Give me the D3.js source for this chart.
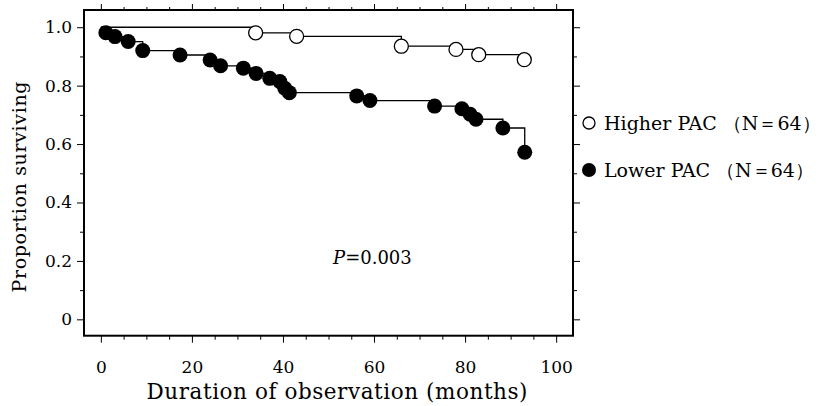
<!DOCTYPE html>
<html><head><meta charset="utf-8">
<script src="https://cdn.jsdelivr.net/npm/d3@7"></script>
<style>body{margin:0;background:#fff}</style>
</head><body>
<svg id="c" width="825" height="406"></svg>
<script>
// ---- data ----
const higherTimes = [34, 43, 66, 78, 83, 93];
const higherSurv  = [0.981, 0.969, 0.935, 0.924, 0.906, 0.889];
const lowerTimes = [1.1, 3.1, 6.0, 9.2, 17.4, 24.0, 26.3, 31.3, 34.1, 37.1, 39.3, 40.4, 41.4, 56.2, 59.1, 73.3, 79.3, 81.1, 82.4, 88.3, 93.1];
const lowerSurv  = [0.981, 0.968, 0.951, 0.920, 0.905, 0.888, 0.868, 0.860, 0.842, 0.825, 0.814, 0.791, 0.776, 0.765, 0.749, 0.730, 0.721, 0.702, 0.685, 0.655, 0.572];
const xMajorTicks = [0, 20, 40, 60, 80, 100];
const yMajorTicks = [0, 0.2, 0.4, 0.6, 0.8, 1.0];
const yTickLabels = ["0", "0.2", "0.4", "0.6", "0.8", "1.0"];
const legendLabels = ["Higher PAC （N＝64）", "Lower PAC （N＝64）"];
const xTitle = "Duration of observation (months)";
const yTitle = "Proportion surviving";
const pText = ["P", "=0.003"];

const svg = d3.select("#c");
const L = 84, R = 573, T = 10, B = 335.7;
const x = d3.scaleLinear().domain([-3.7, 103.7]).range([L, R]);
const y = d3.scaleLinear().domain([-0.056, 1.059]).range([B, T]);
const font = "'DejaVu Serif', serif";

const xMinor = d3.range(0, 101, 5).filter(v => v % 20 !== 0);
const yMinor = d3.range(1, 10, 2).map(v => v / 10);

function styleAxis(g){ g.select(".domain").remove(); g.selectAll("line").attr("stroke","#000").attr("stroke-width",1); }

// bottom
svg.append("g").attr("transform",`translate(0,${B})`)
  .call(d3.axisBottom(x).tickValues(xMajorTicks).tickSize(7).tickFormat(d=>d))
  .call(styleAxis)
  .call(g=>g.selectAll("text").attr("font-family",font).attr("font-size",17).attr("fill","#000").attr("y",25).attr("dy","0.71em"));
svg.append("g").attr("transform",`translate(0,${B})`)
  .call(d3.axisBottom(x).tickValues(xMinor).tickSize(4).tickFormat(""))
  .call(styleAxis);
// top
svg.append("g").attr("transform",`translate(0,${T})`)
  .call(d3.axisTop(x).tickValues(xMajorTicks).tickSize(6).tickFormat(""))
  .call(styleAxis);
svg.append("g").attr("transform",`translate(0,${T})`)
  .call(d3.axisTop(x).tickValues(xMinor).tickSize(3).tickFormat(""))
  .call(styleAxis);
// left
svg.append("g").attr("transform",`translate(${L},0)`)
  .call(d3.axisLeft(y).tickValues(yMajorTicks).tickSize(7).tickPadding(5).tickFormat((d,i)=>yTickLabels[i]))
  .call(styleAxis)
  .call(g=>g.selectAll("text").attr("font-family",font).attr("font-size",17).attr("fill","#000"));
svg.append("g").attr("transform",`translate(${L},0)`)
  .call(d3.axisLeft(y).tickValues(yMinor).tickSize(4).tickFormat(""))
  .call(styleAxis);
// right
svg.append("g").attr("transform",`translate(${R},0)`)
  .call(d3.axisRight(y).tickValues(yMajorTicks).tickSize(7).tickFormat(""))
  .call(styleAxis);
svg.append("g").attr("transform",`translate(${R},0)`)
  .call(d3.axisRight(y).tickValues(yMinor).tickSize(4).tickFormat(""))
  .call(styleAxis);

// frame
svg.append("rect").attr("x",L).attr("y",T).attr("width",R-L).attr("height",B-T)
  .attr("fill","none").attr("stroke","#000").attr("stroke-width",2);

// step curves
const line = d3.line().x(d=>x(d[0])).y(d=>y(d[1])).curve(d3.curveStepAfter);
const hi = [[0,1]].concat(higherTimes.map((t,i)=>[t,higherSurv[i]]));
const lo = [[0,1]].concat(lowerTimes.map((t,i)=>[t,lowerSurv[i]]));
svg.append("path").attr("d",line(hi)).attr("fill","none").attr("stroke","#000").attr("stroke-width",1.3);
svg.append("path").attr("d",line(lo)).attr("fill","none").attr("stroke","#000").attr("stroke-width",1.3);

svg.append("g").selectAll("circle").data(lowerTimes).join("circle")
  .attr("cx",d=>x(d)).attr("cy",(d,i)=>y(lowerSurv[i])).attr("r",7.5).attr("fill","#000");
svg.append("g").selectAll("circle").data(higherTimes).join("circle")
  .attr("cx",d=>x(d)).attr("cy",(d,i)=>y(higherSurv[i])).attr("r",7).attr("fill","#fff").attr("stroke","#000").attr("stroke-width",1.3);

// titles
svg.append("text").attr("x",337).attr("y",399).attr("text-anchor","middle")
  .attr("font-family",font).attr("font-size",21.5).attr("textLength",381).attr("lengthAdjust","spacing").text(xTitle);
svg.append("text").attr("transform","translate(26,187) rotate(-90)").attr("text-anchor","middle")
  .attr("font-family",font).attr("font-size",19).attr("textLength",211).attr("lengthAdjust","spacing").text(yTitle);

// P value
const pt = svg.append("text").attr("x",333).attr("y",264).attr("font-family",font).attr("font-size",18);
pt.append("tspan").attr("font-style","italic").text(pText[0]);
pt.append("tspan").text(pText[1]);

// legend
const lg = svg.append("g");
lg.append("circle").attr("cx",589).attr("cy",123).attr("r",6).attr("fill","#fff").attr("stroke","#000").attr("stroke-width",1.3);
lg.append("circle").attr("cx",589).attr("cy",170).attr("r",7).attr("fill","#000");
lg.append("text").attr("x",604).attr("y",130).attr("font-family",font).attr("font-size",19).text(legendLabels[0]);
lg.append("text").attr("x",604).attr("y",177).attr("font-family",font).attr("font-size",19).text(legendLabels[1]);
</script>
</body></html>
